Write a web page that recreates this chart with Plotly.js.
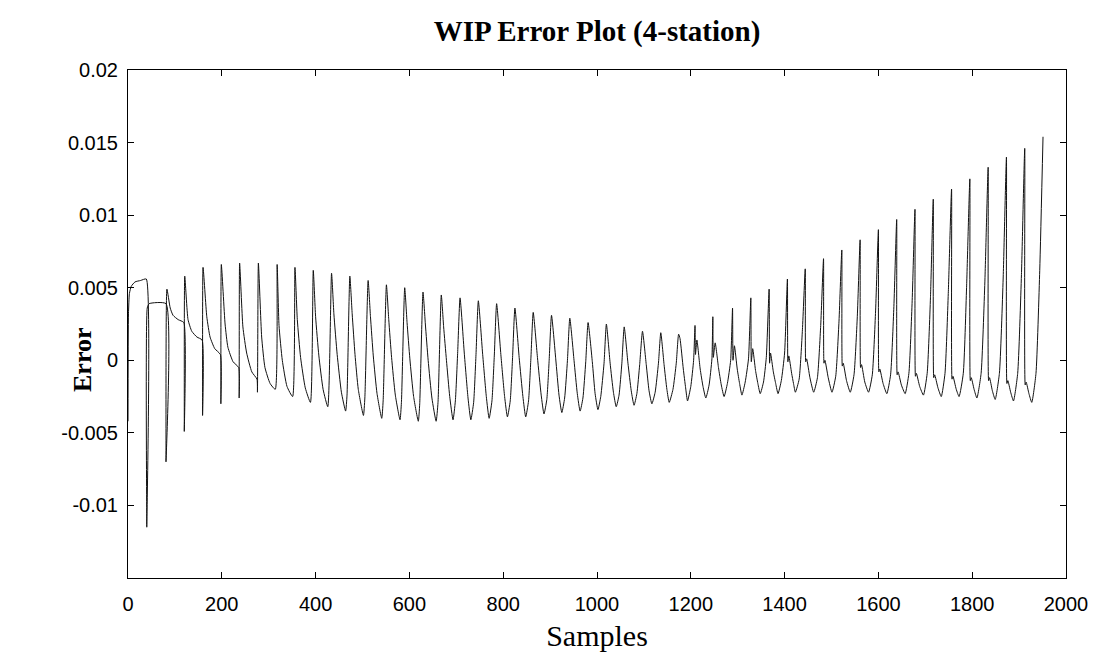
<!DOCTYPE html>
<html>
<head>
<meta charset="utf-8">
<script src="https://cdn.plot.ly/plotly-3.0.1.min.js"></script>
<style>html,body{margin:0;padding:0;background:#fff;}#chart{width:1101px;height:657px;}</style>
</head>
<body>
<div id="chart"></div>
<script>
// Key points of the WIP error signal (sample index, error value)
const sampleIndex = [
  0,1,3,7,15,27,39,
  40,41,45,81,
  81,83,90,96,107,119,
  120,121,128,136,147,158,
  159,160,168,175,185,197,
  198,199,207,213,224,236,
  237,238,245,253,264,275,
  276,278,285,292,303,314,
  318,322,329,339,351,
  356,361,368,378,389,
  395,400,407,416,426,
  434,439,446,455,464,467,
  473,478,484,491,502,505,
  512,517,523,531,541,544,
  551,556,562,570,580,583,
  590,595,601,609,619,622,
  629,634,640,648,657,661,
  668,673,679,686,693,698,703,
  708,717,725,731,737,742,
  747,756,764,770,776,781,
  786,795,803,809,815,820,
  825,834,842,848,854,859,
  864,873,881,887,893,898,
  903,912,919,925,931,937,
  942,951,958,964,970,976,
  981,990,996,1002,1008,1015,
  1020,1028,1035,1041,1047,1053,
  1058,1066,1073,1079,1085,1091,
  1097,1105,1111,1117,1124,1131,
  1136,1143,1149,1154,1162,1169,
  1174,1177,1184,1189,1193,1200,1206,
  1209,1210,1213,1220,1226,1232,1239,1245,
  1247,1248,1252,1259,1265,1271,1278,1285,
  1289,1290,1293,1299,1304,1309,1316,1323,
  1328,1329,1332,1338,1343,1348,1355,1361,
  1367,1368,1370,1376,1381,1386,1393,1400,
  1406,1407,1409,1415,1419,1423,1431,1438,
  1444,1445,1447,1454,1462,1470,1477,
  1483,1484,1486,1493,1501,1509,1516,
  1522,1523,1525,1532,1540,1548,1555,
  1561,1562,1564,1571,1579,1587,1594,
  1600,1601,1603,1610,1618,1626,1633,
  1639,1640,1642,1649,1657,1665,1672,
  1678,1679,1681,1688,1696,1704,1711,
  1717,1718,1720,1727,1734,1742,1749,
  1756,1757,1759,1766,1772,1781,1788,
  1795,1796,1798,1804,1810,1819,1827,
  1834,1835,1837,1843,1849,1858,1866,
  1873,1874,1876,1882,1888,1897,1905,
  1912,1913,1915,1921,1927,1936,1944,
  1951
];
const wipError = [
  -0.0042,0.0032,0.0046,0.0051,0.0054,0.0055,0.0056,
  -0.0115,0.0036,0.0039,0.0039,
  -0.0070,0.0049,0.0036,0.0031,0.0028,0.0026,
  -0.0049,0.0058,0.0028,0.0020,0.0016,0.0014,
  -0.0038,0.0064,0.0030,0.0016,0.0008,0.0004,
  -0.0030,0.0066,0.0025,0.0009,-0.0001,-0.0005,
  -0.0026,0.0067,0.0023,0.0005,-0.0008,-0.0013,
  -0.0022,0.0067,0.0016,-0.0005,-0.0016,-0.0020,
  0.0066,0.0024,0.0000,-0.0018,-0.0025,
  0.0064,0.0028,0.0002,-0.0019,-0.0029,
  0.0062,0.0030,0.0003,-0.0020,-0.0032,
  0.0060,0.0032,0.0004,-0.0022,-0.0035,-0.0024,
  0.0058,0.0032,0.0004,-0.0020,-0.0038,-0.0026,
  0.0055,0.0030,0.0003,-0.0023,-0.0040,-0.0028,
  0.0052,0.0028,0.0002,-0.0024,-0.0041,-0.0029,
  0.0050,0.0026,0.0001,-0.0025,-0.0042,-0.0030,
  0.0047,0.0025,0.0000,-0.0026,-0.0042,-0.0029,
  0.0045,0.0023,0.0000,-0.0025,-0.0041,-0.0028,0.0006,
  0.0043,0.0005,-0.0026,-0.0041,-0.0029,0.0004,
  0.0041,0.0005,-0.0025,-0.0040,-0.0028,0.0003,
  0.0039,0.0004,-0.0025,-0.0039,-0.0028,0.0002,
  0.0036,0.0002,-0.0025,-0.0039,-0.0028,0.0001,
  0.0033,0.0002,-0.0024,-0.0037,-0.0027,0.0000,
  0.0031,0.0001,-0.0024,-0.0036,-0.0026,0.0000,
  0.0029,0.0000,-0.0023,-0.0035,-0.0026,-0.0001,
  0.0026,-0.0001,-0.0023,-0.0034,-0.0025,-0.0002,
  0.0025,-0.0002,-0.0022,-0.0032,-0.0024,-0.0002,
  0.0023,-0.0002,-0.0021,-0.0031,-0.0023,-0.0003,
  0.0020,-0.0003,-0.0021,-0.0030,-0.0022,-0.0002,
  0.0019,-0.0003,-0.0020,-0.0029,-0.0020,-0.0002,
  0.0018,0.0015,-0.0006,-0.0019,-0.0028,-0.0018,0.0000,
  0.0024,0.0004,0.0014,-0.0006,-0.0018,-0.0026,-0.0017,0.0001,
  0.0030,0.0002,0.0012,-0.0005,-0.0017,-0.0025,-0.0016,0.0000,
  0.0036,0.0000,0.0010,-0.0006,-0.0016,-0.0024,-0.0015,0.0001,
  0.0043,-0.0001,0.0008,-0.0007,-0.0016,-0.0023,-0.0015,0.0002,
  0.0049,-0.0002,0.0005,-0.0008,-0.0016,-0.0023,-0.0014,0.0005,
  0.0056,-0.0001,0.0003,-0.0009,-0.0016,-0.0022,-0.0013,0.0021,
  0.0063,-0.0001,0.0001,-0.0012,-0.0022,-0.0012,0.0024,
  0.0070,-0.0002,0.0000,-0.0012,-0.0022,-0.0011,0.0027,
  0.0076,-0.0004,-0.0002,-0.0014,-0.0022,-0.0010,0.0030,
  0.0083,-0.0005,-0.0003,-0.0015,-0.0022,-0.0010,0.0034,
  0.0090,-0.0008,-0.0006,-0.0016,-0.0023,-0.0010,0.0037,
  0.0097,-0.0010,-0.0008,-0.0017,-0.0023,-0.0009,0.0041,
  0.0104,-0.0011,-0.0009,-0.0018,-0.0024,-0.0009,0.0043,
  0.0111,-0.0012,-0.0010,-0.0019,-0.0025,-0.0009,0.0046,
  0.0118,-0.0013,-0.0011,-0.0020,-0.0025,-0.0009,0.0050,
  0.0125,-0.0014,-0.0012,-0.0020,-0.0026,-0.0009,0.0054,
  0.0133,-0.0014,-0.0012,-0.0021,-0.0027,-0.0009,0.0056,
  0.0140,-0.0016,-0.0014,-0.0022,-0.0028,-0.0009,0.0059,
  0.0146,-0.0017,-0.0015,-0.0023,-0.0029,-0.0009,0.0062,
  0.0154
];

const xTickVals = [0, 200, 400, 600, 800, 1000, 1200, 1400, 1600, 1800, 2000];
const yTickVals = [-0.01, -0.005, 0, 0.005, 0.01, 0.015, 0.02];
const yTickText = ['-0.01', '-0.005', '0', '0.005', '0.01', '0.015', '0.02'];

const trace = {
  type: 'scatter',
  mode: 'lines',
  x: sampleIndex,
  y: wipError,
  line: {color: '#111111', width: 1, shape: 'spline', smoothing: 0.5},
  hoverinfo: 'x+y'
};

const tickFont = {family: 'Liberation Sans, Arial, sans-serif', size: 20, color: '#000'};
const serif = 'Liberation Serif, Times New Roman, serif';

const layout = {
  width: 1101,
  height: 657,
  paper_bgcolor: '#ffffff',
  plot_bgcolor: '#ffffff',
  margin: {l: 128, r: 35, t: 70, b: 79},
  showlegend: false,
  title: {
    text: 'WIP Error Plot (4-station)',
    font: {family: serif, size: 29, color: '#000', weight: 700},
    x: 0.5, xref: 'paper', xanchor: 'center',
    y: 1 - 31/657, yref: 'container', yanchor: 'middle'
  },
  xaxis: {
    range: [0, 2000],
    tickmode: 'array',
    tickvals: xTickVals,
    ticks: 'inside',
    ticklen: 6,
    tickcolor: '#000',
    ticklabelstandoff: 8,
    mirror: 'ticks',
    showline: true,
    linecolor: '#000',
    linewidth: 1,
    showgrid: false,
    zeroline: false,
    tickfont: tickFont,
    title: {
      text: 'Samples',
      font: {family: serif, size: 30, color: '#000'},
      standoff: 10
    }
  },
  yaxis: {
    range: [-0.015, 0.02],
    tickmode: 'array',
    tickvals: yTickVals,
    ticktext: yTickText,
    ticks: 'inside',
    ticklen: 6,
    tickcolor: '#000',
    ticklabelstandoff: 5,
    mirror: 'ticks',
    showline: true,
    linecolor: '#000',
    linewidth: 1,
    showgrid: false,
    zeroline: false,
    tickfont: tickFont,
    title: {text: ''}
  },
  annotations: [{
    text: '<b>Error</b>',
    xref: 'paper', yref: 'paper',
    x: (82 - 128) / 938, y: (578 - 360) / 508,
    xanchor: 'center', yanchor: 'middle',
    textangle: -90,
    showarrow: false,
    font: {family: serif, size: 26, color: '#000'}
  }]
};

Plotly.newPlot('chart', [trace], layout, {displayModeBar: false, responsive: false});
</script>
</body>
</html>
